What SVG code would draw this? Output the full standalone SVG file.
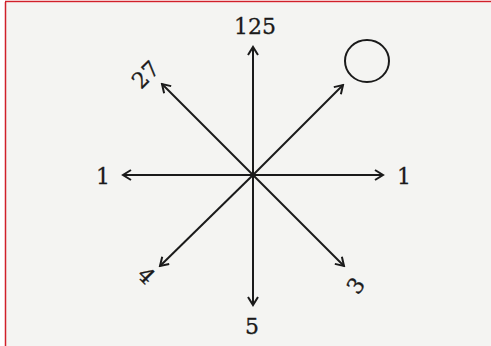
<svg xmlns="http://www.w3.org/2000/svg" width="491" height="346" viewBox="0 0 491 346">
<defs>
<marker id="ah" viewBox="0 0 12 12" refX="10" refY="6" markerWidth="12" markerHeight="12" markerUnits="userSpaceOnUse" orient="auto">
<path d="M2,1 L10,6 L2,11" fill="none" stroke="#1a1a1a" stroke-width="2"/>
</marker>
<style>
.bg{fill:#f4f4f2}
.ln{stroke:#1a1a1a;stroke-width:2;fill:none;marker-end:url(#ah)}
.t{font-family:"DejaVu Serif","Liberation Serif",serif;font-size:22px;fill:#1a1a1a;stroke:#1a1a1a;stroke-width:0.3;text-anchor:middle}
</style>
</defs>
<rect x="0" y="0" width="491" height="346" fill="#ffffff"/>
<rect class="bg" x="6" y="3" width="485" height="343"/>
<line x1="5.5" y1="2" x2="5.5" y2="346" stroke="#d0202a" stroke-width="1.5"/>
<line x1="5" y1="1.5" x2="491" y2="1.5" stroke="#d0202a" stroke-width="1.5"/>
<g id="connectors">
<line class="ln" x1="253" y1="175" x2="253" y2="47"/>
<line class="ln" x1="253" y1="175" x2="253" y2="305"/>
<line class="ln" x1="253" y1="175" x2="383" y2="175"/>
<line class="ln" x1="253" y1="175" x2="123" y2="175"/>
<line class="ln" x1="253" y1="175" x2="343" y2="85"/>
<line class="ln" x1="253" y1="175" x2="162" y2="84"/>
<line class="ln" x1="253" y1="175" x2="160" y2="266"/>
<line class="ln" x1="253" y1="175" x2="344" y2="266"/>
<circle cx="253" cy="175" r="2.5" fill="#1a1a1a"/>
</g>
<g id="n-top"><text class="t" x="255" y="34">125</text></g>
<g id="n-bottom"><text class="t" x="252" y="334">5</text></g>
<g id="n-left"><text class="t" x="103" y="184">1</text></g>
<g id="n-right"><text class="t" x="404" y="184">1</text></g>
<g id="n-ne"><ellipse cx="367" cy="61" rx="22" ry="21" fill="none" stroke="#1a1a1a" stroke-width="2"/></g>
<g id="n-nw"><text class="t" transform="translate(151,80) rotate(-45)">27</text></g>
<g id="n-sw"><text class="t" transform="translate(141,281) rotate(45)">4</text></g>
<g id="n-se"><text class="t" transform="translate(362,290) rotate(-55)">3</text></g>
</svg>
